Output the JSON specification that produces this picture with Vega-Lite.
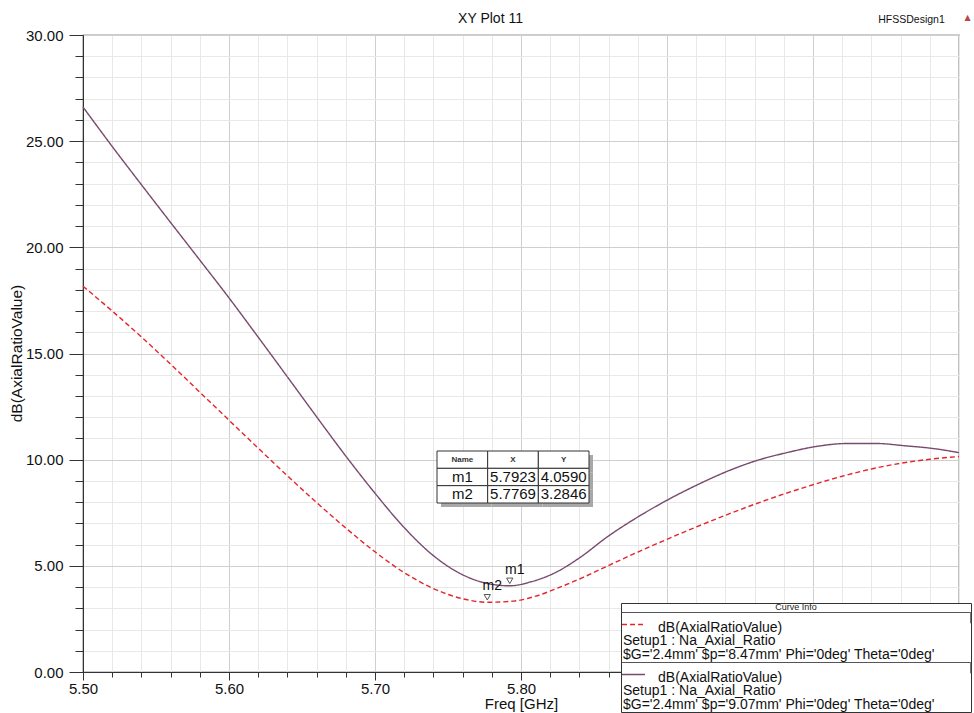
{
  "$schema": "https://vega.github.io/schema/vega-lite/v6.json",
  "width": 876,
  "height": 637,
  "autosize": "none",
  "padding": {"left": 83, "top": 35, "right": 15, "bottom": 41},
  "background": "white",
  "config": {
    "font": "Liberation Sans",
    "view": {"stroke": "#333333", "strokeWidth": 1.2},
    "axis": {"labelFlush": false, "labelOverlap": false}
  },
  "datasets": {
    "curves": [
      {"f": 5.500, "ar": 18.17, "p": "8.47mm"},
      {"f": 5.520, "ar": 17.00, "p": "8.47mm"},
      {"f": 5.540, "ar": 15.78, "p": "8.47mm"},
      {"f": 5.560, "ar": 14.50, "p": "8.47mm"},
      {"f": 5.580, "ar": 13.18, "p": "8.47mm"},
      {"f": 5.600, "ar": 11.86, "p": "8.47mm"},
      {"f": 5.620, "ar": 10.54, "p": "8.47mm"},
      {"f": 5.640, "ar": 9.24, "p": "8.47mm"},
      {"f": 5.660, "ar": 7.98, "p": "8.47mm"},
      {"f": 5.680, "ar": 6.78, "p": "8.47mm"},
      {"f": 5.700, "ar": 5.66, "p": "8.47mm"},
      {"f": 5.720, "ar": 4.68, "p": "8.47mm"},
      {"f": 5.740, "ar": 3.93, "p": "8.47mm"},
      {"f": 5.760, "ar": 3.45, "p": "8.47mm"},
      {"f": 5.7769, "ar": 3.2846, "p": "8.47mm"},
      {"f": 5.795, "ar": 3.34, "p": "8.47mm"},
      {"f": 5.810, "ar": 3.57, "p": "8.47mm"},
      {"f": 5.825, "ar": 3.95, "p": "8.47mm"},
      {"f": 5.843, "ar": 4.47, "p": "8.47mm"},
      {"f": 5.861, "ar": 5.05, "p": "8.47mm"},
      {"f": 5.880, "ar": 5.65, "p": "8.47mm"},
      {"f": 5.900, "ar": 6.25, "p": "8.47mm"},
      {"f": 5.920, "ar": 6.83, "p": "8.47mm"},
      {"f": 5.940, "ar": 7.38, "p": "8.47mm"},
      {"f": 5.960, "ar": 7.90, "p": "8.47mm"},
      {"f": 5.980, "ar": 8.38, "p": "8.47mm"},
      {"f": 6.000, "ar": 8.82, "p": "8.47mm"},
      {"f": 6.020, "ar": 9.22, "p": "8.47mm"},
      {"f": 6.040, "ar": 9.56, "p": "8.47mm"},
      {"f": 6.060, "ar": 9.83, "p": "8.47mm"},
      {"f": 6.080, "ar": 10.02, "p": "8.47mm"},
      {"f": 6.100, "ar": 10.15, "p": "8.47mm"},
      {"f": 5.500, "ar": 26.61, "p": "9.07mm"},
      {"f": 5.520, "ar": 24.75, "p": "9.07mm"},
      {"f": 5.540, "ar": 22.95, "p": "9.07mm"},
      {"f": 5.560, "ar": 21.17, "p": "9.07mm"},
      {"f": 5.580, "ar": 19.40, "p": "9.07mm"},
      {"f": 5.600, "ar": 17.62, "p": "9.07mm"},
      {"f": 5.620, "ar": 15.77, "p": "9.07mm"},
      {"f": 5.640, "ar": 13.90, "p": "9.07mm"},
      {"f": 5.660, "ar": 12.02, "p": "9.07mm"},
      {"f": 5.680, "ar": 10.17, "p": "9.07mm"},
      {"f": 5.700, "ar": 8.42, "p": "9.07mm"},
      {"f": 5.720, "ar": 6.80, "p": "9.07mm"},
      {"f": 5.740, "ar": 5.48, "p": "9.07mm"},
      {"f": 5.760, "ar": 4.58, "p": "9.07mm"},
      {"f": 5.775, "ar": 4.20, "p": "9.07mm"},
      {"f": 5.7923, "ar": 4.059, "p": "9.07mm"},
      {"f": 5.807, "ar": 4.25, "p": "9.07mm"},
      {"f": 5.822, "ar": 4.63, "p": "9.07mm"},
      {"f": 5.841, "ar": 5.42, "p": "9.07mm"},
      {"f": 5.859, "ar": 6.36, "p": "9.07mm"},
      {"f": 5.880, "ar": 7.30, "p": "9.07mm"},
      {"f": 5.900, "ar": 8.09, "p": "9.07mm"},
      {"f": 5.920, "ar": 8.79, "p": "9.07mm"},
      {"f": 5.943, "ar": 9.50, "p": "9.07mm"},
      {"f": 5.962, "ar": 9.97, "p": "9.07mm"},
      {"f": 5.982, "ar": 10.33, "p": "9.07mm"},
      {"f": 6.003, "ar": 10.63, "p": "9.07mm"},
      {"f": 6.023, "ar": 10.76, "p": "9.07mm"},
      {"f": 6.044, "ar": 10.76, "p": "9.07mm"},
      {"f": 6.062, "ar": 10.66, "p": "9.07mm"},
      {"f": 6.083, "ar": 10.52, "p": "9.07mm"},
      {"f": 6.100, "ar": 10.33, "p": "9.07mm"}
    ],
    "markers": [
      {"name": "m1", "f": 5.7923, "ar": 4.0590},
      {"name": "m2", "f": 5.7769, "ar": 3.2846}
    ],
    "table": [
      {"row": "hdr", "col": "Name", "text": "Name"},
      {"row": "hdr", "col": "X", "text": "X"},
      {"row": "hdr", "col": "Y", "text": "Y"},
      {"row": "m1", "col": "Name", "text": "m1"},
      {"row": "m1", "col": "X", "text": "5.7923"},
      {"row": "m1", "col": "Y", "text": "4.0590"},
      {"row": "m2", "col": "Name", "text": "m2"},
      {"row": "m2", "col": "X", "text": "5.7769"},
      {"row": "m2", "col": "Y", "text": "3.2846"}
    ]
  },
  "layer": [
    {
      "layer": [
        {
          "data": {"name": "curves"},
          "mark": {"type": "line", "opacity": 0},
          "encoding": {
            "x": {
              "field": "f", "type": "quantitative",
              "scale": {"domain": [5.5, 6.1], "nice": false, "zero": false},
              "axis": {
                "orient": "bottom",
                "values": [5.5, 5.52, 5.54, 5.56, 5.58, 5.6, 5.62, 5.64, 5.66, 5.68, 5.7, 5.72, 5.74, 5.76, 5.78, 5.8, 5.82, 5.84, 5.86, 5.88, 5.9, 5.92, 5.94, 5.96, 5.98, 6.0, 6.02, 6.04, 6.06, 6.08, 6.1],
                "labels": false, "title": null, "domain": false,
                "grid": true, "gridColor": "#e8e8e8", "gridWidth": 1,
                "ticks": true, "tickSize": 5, "tickColor": "#333333"
              }
            },
            "y": {
              "field": "ar", "type": "quantitative",
              "scale": {"domain": [0, 30], "nice": false, "zero": false},
              "axis": {
                "orient": "left",
                "values": [0, 1, 2, 3, 4, 5, 6, 7, 8, 9, 10, 11, 12, 13, 14, 15, 16, 17, 18, 19, 20, 21, 22, 23, 24, 25, 26, 27, 28, 29, 30],
                "labels": false, "title": null, "domain": false,
                "grid": true, "gridColor": "#e8e8e8", "gridWidth": 1,
                "ticks": true, "tickSize": 8, "tickColor": "#333333"
              }
            }
          }
        },
        {
          "data": {"name": "curves"},
          "mark": {"type": "line", "opacity": 0},
          "encoding": {
            "x": {
              "field": "f", "type": "quantitative",
              "scale": {"domain": [5.5, 6.1], "nice": false, "zero": false},
              "axis": {
                "orient": "bottom",
                "values": [5.5, 5.6, 5.7, 5.8, 5.9, 6.0],
                "format": ".2f",
                "grid": true, "gridColor": "#cfcfcf", "gridWidth": 1,
                "domain": true, "domainColor": "#333333",
                "tickSize": 8, "tickColor": "#333333",
                "labelFont": "Liberation Sans", "labelFontSize": 15, "labelColor": "#111111", "labelPadding": 1,
                "title": "Freq [GHz]", "titleFont": "Liberation Sans", "titleFontSize": 15,
                "titleFontWeight": "normal", "titleColor": "#111111", "titlePadding": 0
              }
            },
            "y": {
              "field": "ar", "type": "quantitative",
              "scale": {"domain": [0, 30], "nice": false, "zero": false},
              "axis": {
                "orient": "left",
                "values": [0, 5, 10, 15, 20, 25, 30],
                "format": ".2f",
                "grid": true, "gridColor": "#cfcfcf", "gridWidth": 1,
                "domain": true, "domainColor": "#333333",
                "tickSize": 14, "tickColor": "#333333",
                "labelFont": "Liberation Sans", "labelFontSize": 15, "labelColor": "#111111", "labelPadding": 6,
                "title": "dB(AxialRatioValue)", "titleFont": "Liberation Sans", "titleFontSize": 15.5,
                "titleFontWeight": "normal", "titleColor": "#111111",
                "titleX": -59, "titleY": 318
              }
            }
          }
        },
        {
          "data": {"name": "curves"},
          "mark": {"type": "line", "opacity": 0},
          "encoding": {
            "x": {
              "field": "f", "type": "quantitative",
              "scale": {"domain": [5.5, 6.1], "nice": false, "zero": false},
              "axis": {
                "orient": "top", "labels": false, "ticks": false, "domain": false, "grid": false,
                "title": "XY Plot 11", "titleFont": "Liberation Sans", "titleFontSize": 14,
                "titleFontWeight": "normal", "titleColor": "#111111",
                "titleX": 407, "titleY": -17, "titleAlign": "center", "titleBaseline": "middle"
              }
            },
            "y": {"field": "ar", "type": "quantitative", "axis": null}
          }
        },
        {
          "data": {"name": "curves"},
          "mark": {"type": "line", "opacity": 0},
          "encoding": {
            "x": {
              "field": "f", "type": "quantitative",
              "scale": {"domain": [5.5, 6.1], "nice": false, "zero": false},
              "axis": {
                "orient": "top", "labels": false, "ticks": false, "domain": false, "grid": false,
                "title": "HFSSDesign1", "titleFont": "Liberation Sans", "titleFontSize": 10.5,
                "titleFontWeight": "normal", "titleColor": "#111111",
                "titleX": 828, "titleY": -16, "titleAlign": "center", "titleBaseline": "middle"
              }
            },
            "y": {"field": "ar", "type": "quantitative", "axis": null}
          }
        },
        {
          "data": {"name": "curves"},
          "mark": {"type": "line", "opacity": 0},
          "encoding": {
            "x": {
              "field": "f", "type": "quantitative",
              "scale": {"domain": [5.5, 6.1], "nice": false, "zero": false},
              "axis": {
                "orient": "top", "labels": false, "ticks": false, "domain": false, "grid": false,
                "title": "▲", "titleFont": "DejaVu Sans", "titleFontSize": 8,
                "titleFontWeight": "normal", "titleColor": "#b5484a",
                "titleX": 884, "titleY": -18, "titleAlign": "center", "titleBaseline": "middle"
              }
            },
            "y": {"field": "ar", "type": "quantitative", "axis": null}
          }
        },
        {
          "data": {"name": "curves"},
          "mark": {"type": "line", "strokeWidth": 1.4, "interpolate": "monotone"},
          "encoding": {
            "x": {"field": "f", "type": "quantitative", "axis": null},
            "y": {"field": "ar", "type": "quantitative", "axis": null},
            "color": {
              "field": "p", "type": "nominal",
              "scale": {"domain": ["8.47mm", "9.07mm"], "range": ["#e4262c", "#7a4a6e"]},
              "legend": {
                "title": "Curve Info",
                "orient": "none", "legendX": 538, "legendY": 568,
                "fillColor": "white", "strokeColor": "#333333", "padding": 0,
                "titleFont": "Liberation Sans", "titleFontSize": 9, "titleFontWeight": "normal",
                "titleColor": "#222222", "titleAnchor": "middle", "titlePadding": 0,
                "labelFont": "Liberation Sans", "labelFontSize": 14, "labelColor": "#111111",
                "labelBaseline": "top", "labelLimit": 500, "labelOffset": -23,
                "labelExpr": "['\u200b\u00a0\u00a0\u00a0\u00a0\u00a0\u00a0\u00a0\u00a0\u00a0dB(AxialRatioValue)', 'Setup1 : Na_Axial_Ratio', \"$G='2.4mm' $p='\" + datum.label + \"' Phi='0deg' Theta='0deg'\u00a0\u00a0\u00a0\u00a0\u00a0\u00a0\u00a0\u00a0\u00a0\u200b\"]",
                "symbolType": "stroke", "symbolSize": 529, "symbolStrokeWidth": 1.5,
                "rowPadding": 0,
                "encode": {
                  "labels": {"update": {"lineHeight": {"value": 13.5}, "dy": {"value": -4}}},
                  "entries": {"update": {"stroke": {"value": "#555555"}, "strokeWidth": {"value": 1}, "strokeDash": {"value": [360, 2000]}}}
                }
              }
            },
            "strokeDash": {
              "field": "p", "type": "nominal",
              "scale": {"domain": ["8.47mm", "9.07mm"], "range": [[5, 3], [1, 0]]},
              "legend": {"title": "Curve Info"}
            }
          }
        },
        {
          "data": {"name": "markers"},
          "mark": {"type": "point", "shape": "triangle-down", "filled": false, "stroke": "#111111", "strokeWidth": 1, "size": 40, "yOffset": -5},
          "encoding": {
            "x": {"field": "f", "type": "quantitative", "axis": null},
            "y": {"field": "ar", "type": "quantitative", "axis": null}
          }
        },
        {
          "data": {"name": "markers"},
          "mark": {"type": "text", "font": "Liberation Sans", "fontSize": 14, "color": "#111111", "dx": 5, "dy": -16},
          "encoding": {
            "x": {"field": "f", "type": "quantitative", "axis": null},
            "y": {"field": "ar", "type": "quantitative", "axis": null},
            "text": {"field": "name"}
          }
        }
      ],
      "resolve": {"axis": {"x": "independent", "y": "independent"}}
    },
    {
      "data": {"name": "table"},
      "encoding": {
        "x": {
          "field": "col", "type": "nominal", "axis": null,
          "scale": {"domain": ["Name", "X", "Y"], "range": [354, 506], "paddingInner": 0, "paddingOuter": 0}
        },
        "y": {
          "field": "row", "type": "nominal", "axis": null,
          "scale": {"domain": ["hdr", "m1", "m2"], "range": [416, 468], "paddingInner": 0, "paddingOuter": 0}
        }
      },
      "layer": [
        {"mark": {"type": "rect", "fill": "#a8a8a8", "xOffset": 4, "x2Offset": 4, "yOffset": 4, "y2Offset": 4}},
        {"mark": {"type": "rect", "fill": "white", "stroke": "#333333", "strokeWidth": 1}},
        {
          "transform": [{"filter": "datum.row == 'hdr'"}],
          "mark": {"type": "text", "font": "Liberation Sans", "fontSize": 8, "fontWeight": "bold", "color": "#333333"},
          "encoding": {"text": {"field": "text"}}
        },
        {
          "transform": [{"filter": "datum.row != 'hdr'"}],
          "mark": {"type": "text", "font": "Liberation Sans", "fontSize": 15, "color": "#111111"},
          "encoding": {"text": {"field": "text"}}
        }
      ]
    }
  ],
  "resolve": {
    "scale": {"x": "independent", "y": "independent"},
    "axis": {"x": "independent", "y": "independent"}
  }
}
